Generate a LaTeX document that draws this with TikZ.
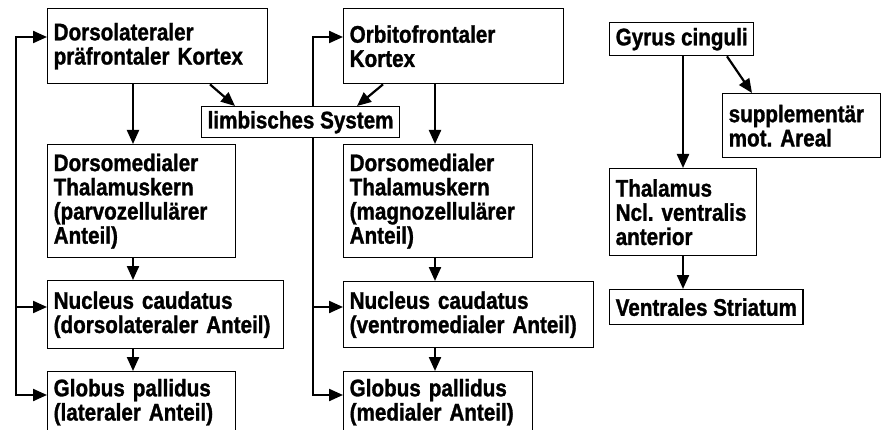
\documentclass[tikz,border=0pt]{standalone}
\usepackage{fontspec}
\setmainfont{Liberation Sans}[FakeStretch=0.86, BoldFeatures={FakeBold=1.2}]
\usetikzlibrary{arrows.meta,calc}
\begin{document}
\begin{tikzpicture}[x=1pt,y=-1pt,
  box/.style={draw, line width=1.4pt, fill=white, anchor=north west, align=left,
    inner xsep=6pt, inner ysep=0pt, font=\fontsize{24}{24.2}\selectfont\bfseries},
  arr/.style={line width=2.2pt, -{Triangle[length=14pt,width=12pt]}},
  arrtwo/.style={line width=2.2pt, line join=miter, {Triangle[length=14pt,width=12pt]}-{Triangle[length=14pt,width=12pt]}},
]
\clip (0,0) rectangle (882,430);
% boxes
\node[box, text width=208pt, minimum height=75pt] (dlpfc) at (47,8) {Dorsolateraler\\präfrontaler Kortex};
\node[box, text width=208pt, minimum height=75pt] (ofc) at (343,8) {Orbitofrontaler\\Kortex};
\node[box, text width=176pt, minimum height=113pt] (dml) at (47,144) {Dorsomedialer\\Thalamuskern\\(parvozellulärer\\Anteil)};
\node[box, text width=177pt, minimum height=113pt] (dmm) at (343,144) {Dorsomedialer\\Thalamuskern\\(magnozellulärer\\Anteil)};
\node[box, text width=224pt, minimum height=68pt] (ncl) at (47,280) {Nucleus caudatus\\(dorsolateraler Anteil)};
\node[box, text width=238pt, minimum height=66pt] (ncm) at (343,281) {Nucleus caudatus\\(ventromedialer Anteil)};
\node[box, text width=176pt, minimum height=61pt] (gpl) at (47,371) {Globus pallidus\\(lateraler Anteil)};
\node[box, text width=177pt, minimum height=61pt] (gpm) at (343,371) {Globus pallidus\\(medialer Anteil)};
\node[box, minimum height=33pt] (gc) at (609,22) {Gyrus cinguli};
\node[box, text width=146pt, minimum height=64pt] (supp) at (722,93) {supplementär\\mot.\ Areal};
\node[box, text width=135pt, minimum height=87pt] (thal) at (609,168) {Thalamus\\Ncl.\ ventralis\\anterior};
\node[box, minimum height=35pt] (vs) at (609,289) {Ventrales Striatum};
% helper coordinates
\coordinate (fbL) at (16,0);
\coordinate (fbM) at (313,0);
\coordinate (yA) at (0,37);
\coordinate (yB) at (0,307);
\coordinate (yC) at (0,395);
\coordinate (cL) at (133,0);
\coordinate (cM) at (435,0);
\coordinate (cR) at (683,0);
\coordinate (a1) at (210,0);
\coordinate (a2) at (235,0);
\coordinate (a3) at (383,0);
\coordinate (a4) at (357,0);
\coordinate (a5) at (727,0);
\coordinate (a6) at (752,0);
% feedback loops
\draw[arrtwo] (gpl.west|-yC) -- (fbL|-yC) -- (fbL|-yA) -- (dlpfc.west|-yA);
\draw[arr] (fbL|-yB) -- (ncl.west|-yB);
\draw[arrtwo] (gpm.west|-yC) -- (fbM|-yC) -- (fbM|-yA) -- (ofc.west|-yA);
\draw[arr] (fbM|-yB) -- (ncm.west|-yB);
% limbic system box (over the feedback line)
\node[box, minimum height=31pt, inner xsep=6pt] (limb) at (201,106) {limbisches System};
% vertical chains
\draw[arr] (dlpfc.south-|cL) -- (dml.north-|cL);
\draw[arr] (dml.south-|cL) -- (ncl.north-|cL);
\draw[arr] (ncl.south-|cL) -- (gpl.north-|cL);
\draw[arr] (ofc.south-|cM) -- (dmm.north-|cM);
\draw[arr] (dmm.south-|cM) -- (ncm.north-|cM);
\draw[arr] (ncm.south-|cM) -- (gpm.north-|cM);
\draw[arr] (gc.south-|cR) -- (thal.north-|cR);
\draw[arr] (thal.south-|cR) -- (vs.north-|cR);
% diagonals
\draw[arr] (dlpfc.south-|a1) -- (limb.north-|a2);
\draw[arr] (ofc.south-|a3) -- (limb.north-|a4);
\draw[arr] (gc.south-|a5) -- (supp.north-|a6);
\end{tikzpicture}
\end{document}
